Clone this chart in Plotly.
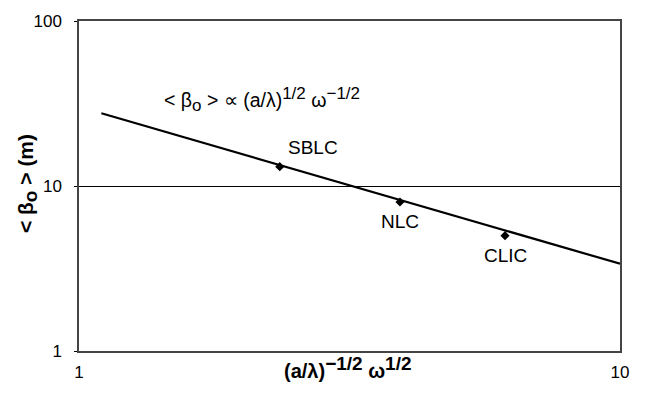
import math
import plotly.graph_objects as go

# Machine design points
machines = ["SBLC", "NLC", "CLIC"]
x_vals = [2.35, 3.92, 6.13]
beta_vals = [13.1, 8.0, 5.0]

# Scaling line end points
line_x = [1.1, 10.0]
line_y = [27.6, 3.38]

# Tick labels
x_ticks = [1, 10]
y_ticks = [1, 10, 100]

FONT = "Liberation Sans, Arial, sans-serif"


def small(txt, px):
    return f'<span style="font-size:{px}px">{txt}</span>'


fig = go.Figure()

fig.add_trace(go.Scatter(
    x=line_x, y=line_y, mode="lines",
    line=dict(color="black", width=2.2),
    showlegend=False, hoverinfo="skip",
))

fig.add_trace(go.Scatter(
    x=x_vals, y=beta_vals, mode="markers",
    marker=dict(symbol="diamond", size=7, color="black"),
    showlegend=False,
))

# Machine labels placed relative to their markers (log axes take log10 positions)
label_offsets = {"SBLC": (33, -19), "NLC": (0, 20), "CLIC": (0, 20)}
for name, xv, yv in zip(machines, x_vals, beta_vals):
    dx, dy = label_offsets[name]
    fig.add_annotation(
        x=math.log10(xv), y=math.log10(yv), xref="x", yref="y",
        xshift=dx, yshift=-dy, xanchor="center", yanchor="middle",
        text=name, showarrow=False,
        font=dict(family=FONT, size=19, color="black"),
    )

fig.add_annotation(
    x=0.338, y=0.762, xref="paper", yref="paper",
    xanchor="center", yanchor="middle",
    text=("&lt; β<sub>" + small("o", 17) + "</sub> &gt; ∝ (a/λ)<sup>"
          + small("1/2", 17) + "</sup> ω<sup>" + small("−1/2", 17) + "</sup>"),
    showarrow=False,
    font=dict(family=FONT, size=19.5, color="black"),
)

# Axis titles
fig.add_annotation(
    x=0.497, y=-0.051, xref="paper", yref="paper",
    xanchor="center", yanchor="middle",
    text=("<b>(a/λ)<sup>" + small("−1/2", 19) + "</sup> ω<sup>"
          + small("1/2", 19) + "</sup></b>"),
    showarrow=False, font=dict(family=FONT, size=20, color="black"),
)
fig.add_annotation(
    x=-0.096, y=0.506, xref="paper", yref="paper",
    xanchor="center", yanchor="middle",
    text="<b>&lt; β<sub>" + small("o", 19) + "</sub> &gt; (m)</b>", textangle=-90,
    showarrow=False, font=dict(family=FONT, size=21, color="black"),
)

fig.update_layout(
    width=649, height=408,
    margin=dict(l=79, r=29, t=19, b=57),
    paper_bgcolor="white", plot_bgcolor="white",
    font=dict(family=FONT, size=17, color="black"),
)

fig.update_xaxes(
    type="log", range=[0, 1],
    tickvals=x_ticks, ticktext=[str(v) for v in x_ticks],
    showgrid=False, zeroline=False,
    showline=True, linecolor="#444", linewidth=1.5, mirror=True,
    ticks="", ticklabelstandoff=5,
    tickfont=dict(family=FONT, size=17),
)

fig.update_yaxes(
    type="log", range=[0, 2],
    tickvals=y_ticks, ticktext=[str(v) for v in y_ticks],
    showgrid=True, gridcolor="black", gridwidth=1, zeroline=False,
    showline=True, linecolor="#444", linewidth=1.5, mirror=True,
    ticks="outside", ticklen=3, tickcolor="black", ticklabelstandoff=9,
    tickfont=dict(family=FONT, size=17),
)

fig.write_html("out.html")
